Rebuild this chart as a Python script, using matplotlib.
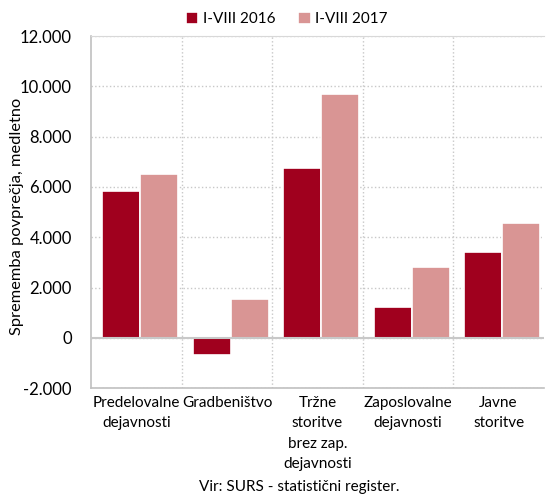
import matplotlib
matplotlib.use("Agg")
import matplotlib.pyplot as plt
import numpy as np
from matplotlib.ticker import FuncFormatter

plt.rcParams['font.family'] = ['Lato', 'DejaVu Sans']

categories = ["Predelovalne\ndejavnosti", "Gradbeništvo",
              "Tržne\nstoritve\nbrez zap.\ndejavnosti",
              "Zaposlovalne\ndejavnosti", "Javne\nstoritve"]
series_names = ["I-VIII 2016", "I-VIII 2017"]
values_2016 = [5820, -680, 6740, 1220, 3420]
values_2017 = [6500, 1530, 9690, 2800, 4570]
colors = ["#A0001E", "#D99594"]

fig = plt.figure(figsize=(5.46, 4.95), dpi=100)
ax = fig.add_axes([0.167, 0.216, 0.829, 0.711])

x = np.arange(len(categories))
w = 0.42
ax.bar(x - w / 2 + 0.04, values_2016, w, color=colors[0], edgecolor="white",
       linewidth=1.2, label=series_names[0], zorder=3)
ax.bar(x + w / 2 + 0.04, values_2017, w, color=colors[1], edgecolor="white",
       linewidth=1.2, label=series_names[1], zorder=3)

ax.set_xlim(-0.5, len(categories) - 0.5)
ax.set_ylim(-2000, 12000)
ax.set_yticks(np.arange(-2000, 12001, 2000))
ax.yaxis.set_major_formatter(FuncFormatter(lambda v, p: f"{int(v):,}".replace(",", ".")))
ax.set_xticks(x)
ax.set_xticklabels(categories, fontsize=11, linespacing=1.55)
ax.tick_params(axis="y", length=0, pad=14, labelsize=12)
ax.tick_params(axis="x", length=0, pad=6)

# grid: dotted horizontal lines and vertical category separators
ax.grid(axis="y", color="#C8C8C8", linestyle=":", linewidth=1, zorder=0)
for b in np.arange(0.5, len(categories) - 0.5, 1):
    ax.axvline(b, color="#C8C8C8", linestyle=":", linewidth=1, zorder=0)
ax.axhline(0, color="#C8C8C8", linewidth=1.5, zorder=4)

ax.spines["right"].set_visible(False)
ax.spines["top"].set_color("#D8D8D8")
ax.spines["top"].set_linewidth(0.8)
for s in ["left", "bottom"]:
    ax.spines[s].set_color("#C0C0C0")
    ax.spines[s].set_linewidth(1.2)

ax.set_ylabel("Sprememba povprečja, medletno", fontsize=11.8, va="center")
ax.yaxis.set_label_coords((17 - 91) / 453, (388 - 216) / 352)

fig.legend(loc="center", bbox_to_anchor=(287 / 546, 1 - 19 / 495), ncol=2,
           frameon=False, fontsize=11, handlelength=0.8, handleheight=0.8,
           handletextpad=0.3, columnspacing=1.5)

fig.text(299 / 546, 1 - 487 / 495, "Vir: SURS - statistični register.",
         ha="center", va="center", fontsize=11)

fig.savefig("out.png", dpi=100)
